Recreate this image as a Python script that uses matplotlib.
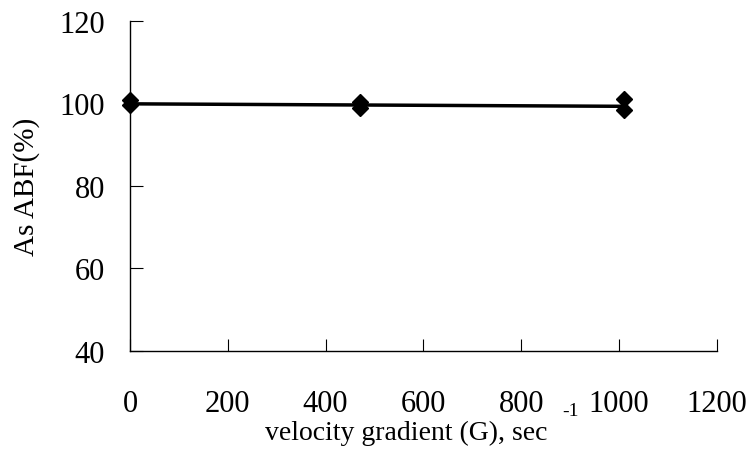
import numpy as np
import matplotlib.pyplot as plt

# velocity gradient (G) and As ABF(%) readings
g_vals = [0, 0, 470, 470, 1010, 1010]
abf_vals = [100.8, 99.5, 100.3, 98.8, 101.0, 98.3]
# trend line
line_g = [0, 1010]
line_abf = [99.9, 99.3]

xticks = [0, 200, 400, 600, 800, 1000, 1200]
yticks = [40, 60, 80, 100, 120]

plt.rcParams['font.family'] = ['Liberation Serif', 'DejaVu Serif']

fig = plt.figure(figsize=(7.53, 4.56), dpi=100)
ax = fig.add_axes([0.1726, 0.228, 0.7794, 0.724])

ax.plot(line_g, line_abf, color='black', lw=2.5, zorder=2)
ax.plot(g_vals, abf_vals, 'D', color='black', ms=8, zorder=3, clip_on=False)

ax.set_xlim(0, 1200)
ax.set_ylim(40, 120)
ax.set_xticks(xticks)
ax.set_yticks(yticks)
ax.tick_params(axis='x', direction='in', length=9, pad=27, labelsize=22)
ax.tick_params(axis='y', direction='in', length=9, pad=18, labelsize=22)
ax.spines['top'].set_visible(False)
ax.spines['right'].set_visible(False)
for s in ['left', 'bottom']:
    ax.spines[s].set_linewidth(1.0)

# x label with raised "-1" like the original
fig.text(0.539, 0.049, 'velocity gradient (G), sec', fontsize=20, ha='center', va='center')
fig.text(0.758, 0.097, '-1', fontsize=14, ha='center', va='center')
ax.set_ylabel('As ABF(%)', fontsize=21, labelpad=14)

fig.savefig('out.png', dpi=100)
